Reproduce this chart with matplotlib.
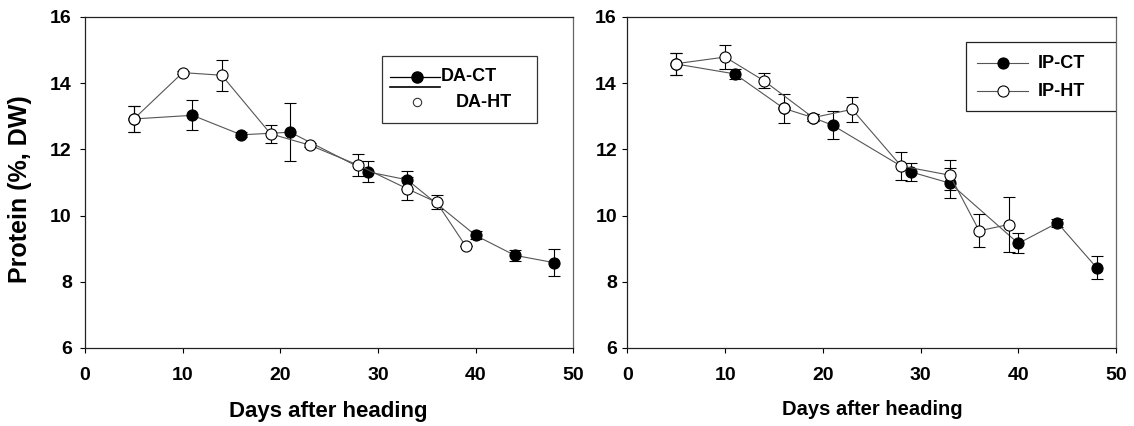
import matplotlib
matplotlib.use("Agg")
import matplotlib.pyplot as plt
from matplotlib.patches import Rectangle
from matplotlib.lines import Line2D

plt.rcParams['font.family'] = ['Liberation Sans', 'DejaVu Sans']
plt.rcParams['font.weight'] = 'bold'

# ---- DA panel ----
da_ct_days = [5, 11, 16, 21, 29, 33, 40, 44, 48]
da_ct_vals = [12.92, 13.03, 12.44, 12.52, 11.32, 11.08, 9.40, 8.80, 8.58]
da_ct_err = [0.40, 0.45, 0.08, 0.88, 0.32, 0.28, 0.12, 0.17, 0.40]

da_ht_days = [5, 10, 14, 19, 23, 28, 33, 36, 39]
da_ht_vals = [12.92, 14.32, 14.24, 12.47, 12.13, 11.52, 10.81, 10.40, 9.07]
da_ht_err = [0.40, 0.05, 0.47, 0.28, 0.05, 0.33, 0.35, 0.21, 0.0]

# ---- IP panel ----
ip_ct_days = [5, 11, 16, 19, 21, 29, 33, 40, 44, 48]
ip_ct_vals = [14.58, 14.28, 13.24, 12.96, 12.73, 11.32, 10.98, 9.16, 9.78, 8.43]
ip_ct_err = [0.33, 0.15, 0.43, 0.10, 0.43, 0.26, 0.46, 0.30, 0.12, 0.35]
ip_ct_hollow = [16]   # CT points that appear as open circles in the figure

ip_ht_days = [5, 10, 14, 19, 23, 28, 33, 36, 39]
ip_ht_vals = [14.59, 14.79, 14.07, 12.96, 13.21, 11.50, 11.22, 9.54, 9.73]
ip_ht_err = [0.33, 0.35, 0.23, 0.10, 0.37, 0.42, 0.45, 0.50, 0.83]

x_ticks = [0, 10, 20, 30, 40, 50]
y_ticks = [6, 8, 10, 12, 14, 16]

LINE = '#555555'


def style_axes(ax, ypad):
    ax.set_xlim(0, 50)
    ax.set_ylim(6, 16)
    ax.set_xticks(x_ticks)
    ax.set_yticks(y_ticks)
    ax.tick_params(axis='both', direction='out', length=3.5, width=0.8,
                   labelsize=14, top=False, right=False)
    ax.tick_params(axis='x', pad=10)
    ax.tick_params(axis='y', pad=ypad)
    for lab in ax.get_xticklabels() + ax.get_yticklabels():
        lab.set_fontweight('bold')
    for side in ['left', 'bottom', 'top', 'right']:
        ax.spines[side].set_linewidth(0.9)
        ax.spines[side].set_color('#222222')
    ax.spines['right'].set_color('#666666')


def plot_series(ax, days, vals, errs, filled, z):
    ax.errorbar(days, vals, yerr=errs, fmt='-o', color=LINE, lw=0.8,
                ms=8, mfc='black' if filled else 'white', mec='black', mew=0.8,
                ecolor='black', elinewidth=0.8, capsize=4.5, capthick=0.8,
                zorder=z)


fig = plt.figure(figsize=(11.34, 4.26), dpi=100)
ax1 = fig.add_axes([0.0750, 0.1831, 0.4306, 0.7770])
ax2 = fig.add_axes([0.5532, 0.1831, 0.4310, 0.7770])

# left panel
plot_series(ax1, da_ct_days, da_ct_vals, da_ct_err, True, 2)
plot_series(ax1, da_ht_days, da_ht_vals, da_ht_err, False, 3)
style_axes(ax1, 6)
ax1.set_ylabel('Protein (%, DW)', fontsize=18, fontweight='bold', va='center')
ax1.yaxis.set_label_coords(-0.133, 0.48)
ax1.set_xlabel('Days after heading', fontsize=16, fontweight='bold', va='center')
ax1.xaxis.set_label_coords(0.499, -0.192)

# manual legend (left) as in the original figure
t = ax1.transAxes
ax1.add_patch(Rectangle((0.609, 0.679), 0.316, 0.204, transform=t,
                        facecolor='white', edgecolor='#333333', lw=0.9, zorder=5))
ax1.add_line(Line2D([0.625, 0.727], [0.820, 0.820], transform=t, color='black',
                    lw=0.9, zorder=6))
ax1.add_line(Line2D([0.625, 0.727], [0.789, 0.789], transform=t, color='black',
                    lw=1.2, zorder=6))
ax1.add_line(Line2D([0.679], [0.820], transform=t, marker='o', ms=8,
                    mfc='black', mec='black', zorder=6))
ax1.add_line(Line2D([0.679], [0.742], transform=t, marker='o', ms=6,
                    mfc='white', mec='#333333', mew=0.8, zorder=6))
ax1.text(0.729, 0.820, 'DA-CT', transform=t, fontsize=13, fontweight='bold',
         va='center', ha='left', zorder=7)
ax1.text(0.760, 0.742, 'DA-HT', transform=t, fontsize=13, fontweight='bold',
         va='center', ha='left', zorder=7)

# right panel
plot_series(ax2, ip_ct_days, ip_ct_vals, ip_ct_err, True, 2)
hol_x = [d for d in ip_ct_days if d in ip_ct_hollow]
hol_y = [v for d, v in zip(ip_ct_days, ip_ct_vals) if d in ip_ct_hollow]
ax2.plot(hol_x, hol_y, 'o', ms=8, mfc='white', mec='black', mew=0.8, zorder=2.5)
plot_series(ax2, ip_ht_days, ip_ht_vals, ip_ht_err, False, 3)
style_axes(ax2, 4)
ax2.set_xlabel('Days after heading', fontsize=14.5, fontweight='bold', va='center')
ax2.xaxis.set_label_coords(0.502, -0.187)

t = ax2.transAxes
ax2.add_patch(Rectangle((0.692, 0.716), 0.308, 0.208, transform=t,
                        facecolor='white', edgecolor='#222222', lw=0.9, zorder=5))
for yy, fc, lab in [(0.860, 'black', 'IP-CT'), (0.776, 'white', 'IP-HT')]:
    ax2.add_line(Line2D([0.716, 0.819], [yy, yy], transform=t, color=LINE,
                        lw=0.8, zorder=6))
    ax2.add_line(Line2D([0.768], [yy], transform=t, marker='o', ms=8,
                        mfc=fc, mec='black', mew=0.8, zorder=6))
    ax2.text(0.840, yy, lab, transform=t, fontsize=13, fontweight='bold',
             va='center', ha='left', zorder=7)

fig.savefig('out.png', dpi=100)
plt.close(fig)
